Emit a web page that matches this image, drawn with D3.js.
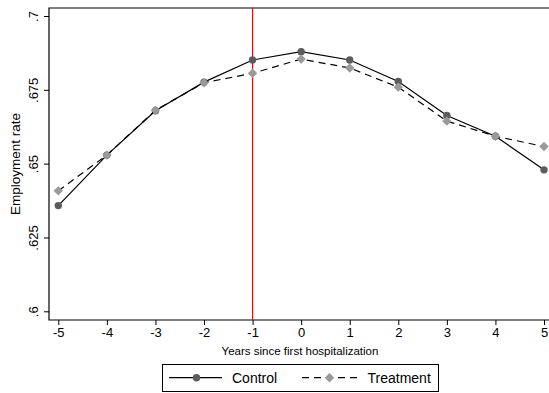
<!DOCTYPE html>
<html>
<head>
<meta charset="utf-8">
<script src="https://cdn.jsdelivr.net/npm/d3@7"></script>
<style>
  body { margin: 0; background: #fff; }
  text { font-family: Arial, "Liberation Sans", Helvetica, sans-serif; fill: #000; }
</style>
</head>
<body>
<div class="chart"></div>
<script>
// data
var years = [-5, -4, -3, -2, -1, 0, 1, 2, 3, 4, 5];
var control = [0.6358, 0.6529, 0.6679, 0.6776, 0.6851, 0.6879, 0.6851, 0.6778, 0.6663, 0.6593, 0.6479];
var treatment = [0.6408, 0.6529, 0.6681, 0.6774, 0.6806, 0.6854, 0.6824, 0.6759, 0.6644, 0.6593, 0.6558];
var yTicks = [0.6, 0.625, 0.65, 0.675, 0.7];
var yTickLabels = [".6", ".625", ".65", ".675", ".7"];
var eventYear = -1;

var svgWidth = 549, svgHeight = 393;

// plot region
var plot = { left: 49, top: 8, right: 549, bottom: 320 };

var svg = d3.select(".chart").append("svg")
  .attr("width", svgWidth)
  .attr("height", svgHeight);

var x = d3.scaleLinear().domain([-5, 5]).range([58.3, 544]);
var y = d3.scaleLinear().domain([0.6, 0.7]).range([311.3, 16]);

// frame (left, top, bottom)
svg.append("path")
  .attr("d", `M${plot.right},${plot.top}H${plot.left}V${plot.bottom}H${plot.right}`)
  .attr("fill", "none")
  .attr("stroke", "#000")
  .attr("stroke-width", 1.2);

// y axis
var leftAxis = d3.axisLeft(y).tickValues(yTicks)
  .tickFormat((d, i) => yTickLabels[i]).tickSize(5).tickPadding(0);
var gy = svg.append("g").attr("transform", `translate(${plot.left},0)`).call(leftAxis);
gy.select(".domain").remove();
gy.selectAll(".tick line").attr("stroke", "#000");
gy.selectAll(".tick text")
  .attr("x", 0).attr("dy", null)
  .attr("transform", "translate(-11,0) rotate(-90)")
  .attr("text-anchor", "middle")
  .attr("font-size", "13px");

// x axis
var bottomAxis = d3.axisBottom(x).tickValues(years).tickFormat(d3.format("d")).tickSize(5);
var gx = svg.append("g").attr("transform", `translate(0,${plot.bottom})`).call(bottomAxis);
gx.select(".domain").remove();
gx.selectAll(".tick line").attr("stroke", "#000");
gx.selectAll(".tick text").attr("y", 8).attr("font-size", "13px")
  .text(d => d < 0 ? "-" + Math.abs(d) : d);

// axis titles
svg.append("text")
  .attr("x", (plot.left + plot.right) / 2 + 1)
  .attr("y", 354.5)
  .attr("text-anchor", "middle")
  .attr("font-size", "11.5px")
  .text("Years since first hospitalization");

svg.append("text")
  .attr("transform", "translate(20,164) rotate(-90)")
  .attr("text-anchor", "middle")
  .attr("font-size", "13.5px")
  .text("Employment rate");

// red event line
svg.append("line")
  .attr("x1", x(eventYear)).attr("x2", x(eventYear))
  .attr("y1", plot.top).attr("y2", plot.bottom)
  .attr("stroke", "red").attr("stroke-width", 1.2);

var lineGen = d3.line().x(d => x(d[0])).y(d => y(d[1]));
var ctrlPts = years.map((t, i) => [t, control[i]]);
var trtPts = years.map((t, i) => [t, treatment[i]]);

// Stata-style diamond = square turned 45 degrees
var diamond = d3.symbol().type(d3.symbolSquare).size(44);

// control line + markers
svg.append("path").attr("d", lineGen(ctrlPts))
  .attr("fill", "none").attr("stroke", "#000").attr("stroke-width", 1.2);

svg.append("g").selectAll("circle").data(ctrlPts).enter().append("circle")
  .attr("cx", d => x(d[0])).attr("cy", d => y(d[1]))
  .attr("r", 3.7).attr("fill", "#5c5c5c");

// treatment line + markers (drawn on top)
svg.append("path").attr("d", lineGen(trtPts))
  .attr("fill", "none").attr("stroke", "#000").attr("stroke-width", 1.2)
  .attr("stroke-dasharray", "7,5");

svg.append("g").selectAll("path").data(trtPts).enter().append("path")
  .attr("d", diamond)
  .attr("transform", d => `translate(${x(d[0])},${y(d[1])}) rotate(45)`)
  .attr("fill", "#9a9a9a");

// legend
var legend = svg.append("g");
legend.append("rect")
  .attr("x", 162.5).attr("y", 364.5).attr("width", 276).attr("height", 27)
  .attr("fill", "#fff").attr("stroke", "#000").attr("stroke-width", 1);
var ly = 377.7;
legend.append("line").attr("x1", 169).attr("x2", 222).attr("y1", ly).attr("y2", ly)
  .attr("stroke", "#000").attr("stroke-width", 1.2);
legend.append("circle").attr("cx", 196.5).attr("cy", ly).attr("r", 3.7).attr("fill", "#5c5c5c");
legend.append("text").attr("x", 232).attr("y", ly + 5).attr("font-size", "14px").text("Control");

legend.append("line").attr("x1", 302).attr("x2", 358).attr("y1", ly).attr("y2", ly)
  .attr("stroke", "#000").attr("stroke-width", 1.2).attr("stroke-dasharray", "7,5");
legend.append("path").attr("d", diamond)
  .attr("transform", `translate(329.5,${ly}) rotate(45)`).attr("fill", "#9a9a9a");
legend.append("text").attr("x", 367.5).attr("y", ly + 5).attr("font-size", "14px").text("Treatment");
</script>
</body>
</html>
